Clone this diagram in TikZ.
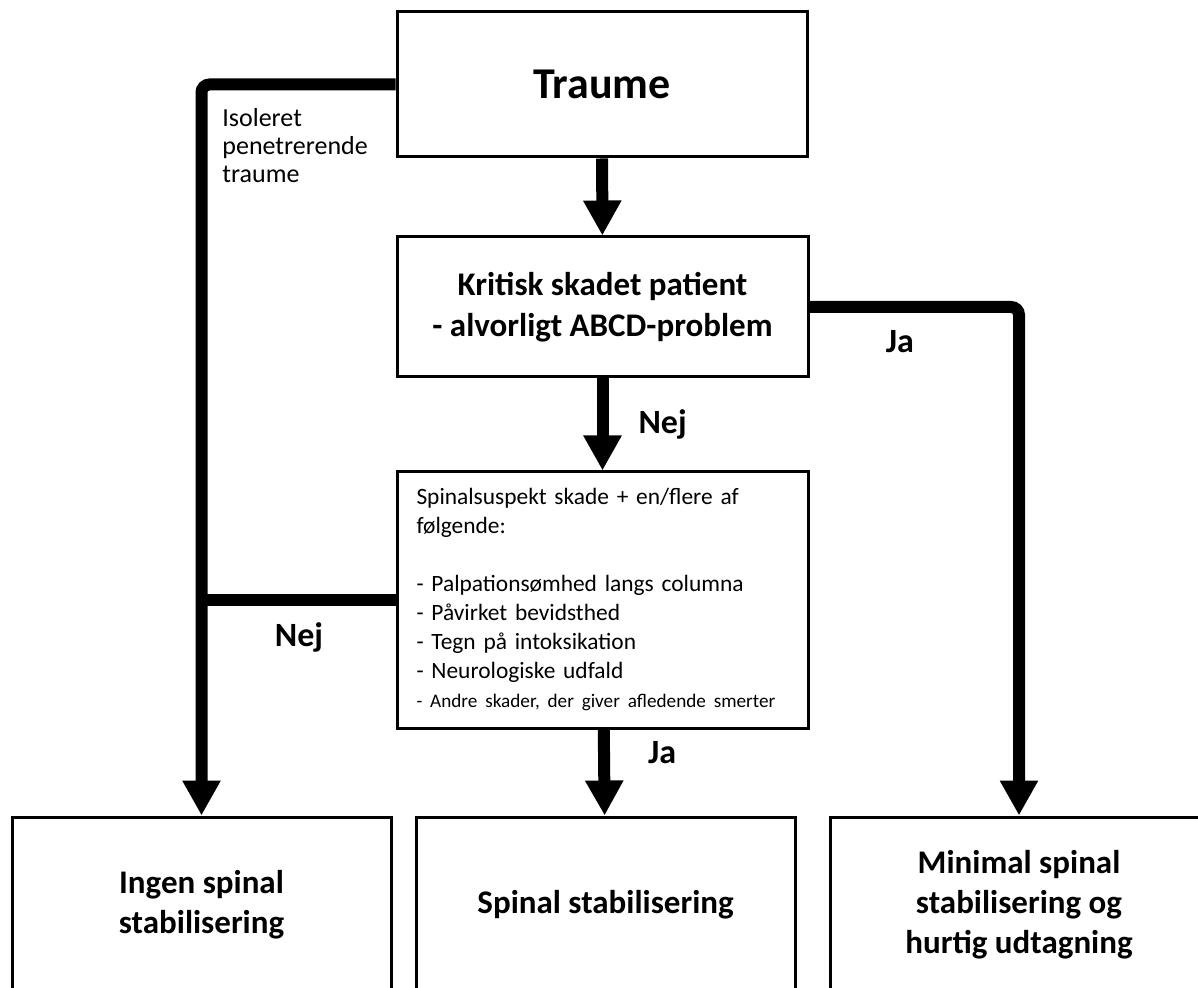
\documentclass[tikz,border=0pt]{standalone}
\usepackage{fontspec}
\setmainfont{Carlito}
\usetikzlibrary{arrows.meta,positioning}

\begin{document}
\begin{tikzpicture}[x=0.5pt,y=-0.5pt,>={Triangle[length=17.5pt,width=18pt]}]
 \tikzstyle{flowbox}=[rectangle,draw=black,line width=1.5pt,fill=white,inner sep=0pt,align=center]
 \tikzstyle{outbox}=[flowbox,minimum width=189.5pt,minimum height=88pt,font=\fontsize{16.5}{20}\selectfont\bfseries]
 \tikzstyle{flow}=[line width=6pt,black]
 \tikzstyle{lbl}=[font=\fontsize{17}{20}\selectfont\bfseries,inner sep=0pt]
 \clip (0,0) rectangle (1198,988);
 \fill[white] (0,0) rectangle (1198,988);
 \node[flowbox,minimum width=205pt,minimum height=72.5pt,font=\fontsize{22}{26}\selectfont\bfseries] (traume) at (602,84.5) {Traume};
 \node[flowbox,minimum width=205.5pt,minimum height=70pt,font=\fontsize{16.5}{20.5}\selectfont\bfseries] (kritisk) at (602.5,307) {Kritisk skadet patient\\- alvorligt ABCD-problem};
 \node[flowbox,minimum width=205.5pt,minimum height=128pt,align=left,text width=186pt,inner xsep=9.75pt,font=\fontsize{11.7}{14.5}\selectfont] (suspekt) at (602.5,600) {Spinalsuspekt skade + en/flere af\\følgende:\\\mbox{}\\- Palpationsømhed langs columna\\- Påvirket bevidsthed\\- Tegn på intoksikation\\- Neurologiske udfald\\\mbox{\fontsize{9.6}{14.5}\selectfont - Andre skader, der giver afledende smerter}};
 \node[outbox] (ingen) at (201.5,905) {Ingen spinal\\stabilisering};
 \node[outbox] (stabil) at (605.5,905) {Spinal stabilisering};
 \node[outbox,minimum width=189pt] (minimal) at (1019,905) {Minimal spinal\\stabilisering og\\hurtig udtagning};
 \node[anchor=north west,align=left,inner sep=0pt,font=\fontsize{13}{14}\selectfont] (isoleret) at (222,108) {Isoleret\\penetrerende\\traume};
 \node[lbl] (nejleft) at (299,637) {Nej};
 \node[lbl] (jaright) at (900,342) {Ja};
 % main column
 \draw[flow,->] (traume) -- (kritisk);
 \draw[flow,->] (kritisk) -- node[lbl,right=15pt] (nejmid) {Nej} (suspekt);
 \draw[flow,->] (suspekt) -- node[lbl,pos=0.27,right=19pt] (jamid) {Ja} (stabil);
 % side branches
 \draw[flow,->,rounded corners=4pt] (traume.west) -| (ingen.north);
 \draw[flow] (suspekt.west) -- (suspekt.west -| ingen.north);
 \draw[flow,->,rounded corners=4pt] (kritisk.east) -| (minimal.north);
\end{tikzpicture}
\end{document}
